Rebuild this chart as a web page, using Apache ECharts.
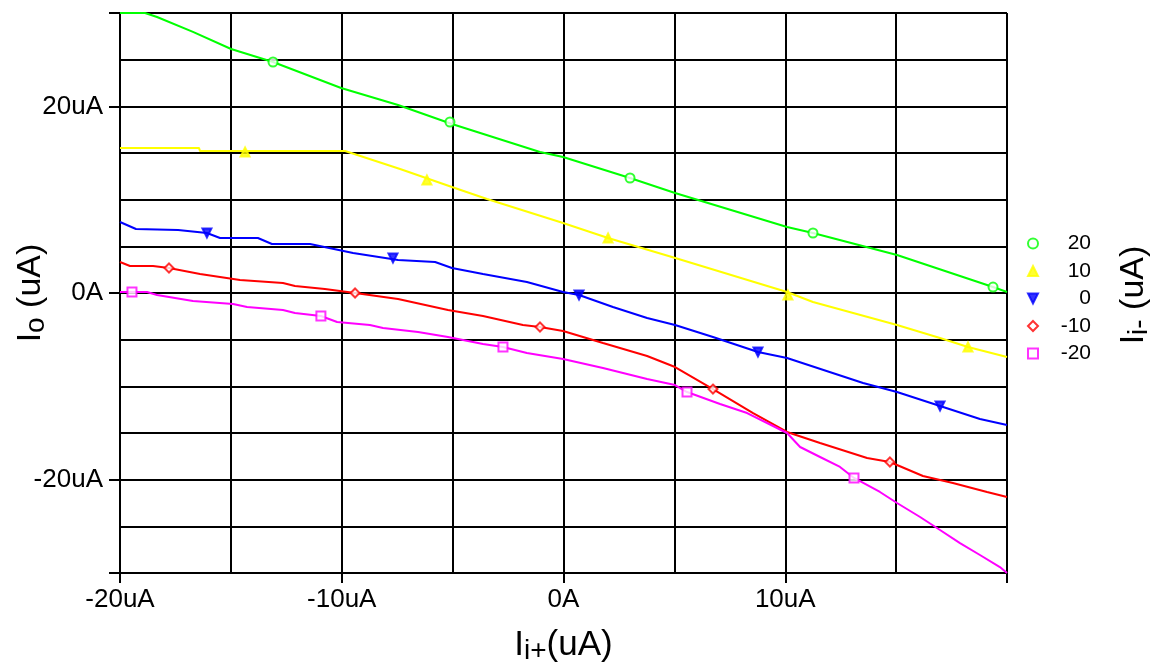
<!DOCTYPE html>
<html>
<head>
<meta charset="utf-8">
<script src="https://cdn.jsdelivr.net/npm/echarts@6/dist/echarts.min.js"></script>
<style>
html,body{margin:0;padding:0;background:#fff;}
#c{width:1156px;height:671px;}
</style>
</head>
<body>
<div id="c"></div>
<script>
// ---- data ----
const seriesNames = ['20', '10', '0', '-10', '-20'];
const seriesColors = ['#00ff00', '#ffff00', '#0000ff', '#ff0000', '#ff00ff'];
const seriesSymbols = ['emptyCircle', 'triangle', 'path://M0,0 L10,0 L5,10 Z', 'emptyDiamond', 'emptyRect'];

// axis positions (grid every 5 uA) and which of them carry ticks / labels
const xGridValues = ['-20', '-15', '-10', '-5', '0', '5', '10', '15', '20'];
const yGridValues = ['-30', '-25', '-20', '-15', '-10', '-5', '0', '5', '10', '15', '20', '25', '30'];
const xTickValues = [-20, -10, 0, 10, 20];
const xLabelValues = [-20, -10, 0, 10];
const yTickValues = [-30, -20, 0, 20, 30];
const yLabelValues = [-20, 0, 20];

const curve20 = [[-20,30],[-18.87,30],[-18.33,29.57],[-16.71,27.97],[-14.99,26.14],[-13.10,24.75],[-10.03,21.96],[-7.46,20.14],[-5.03,18.11],[-1.06,15.11],[-0.02,14.57],[3.00,12.32],[5.03,10.71],[10.08,7.07],[11.25,6.43],[15.04,4.07],[19.37,0.64],[20,0.11]];
const curve10 = [[-20,15.54],[-16.44,15.54],[-16.39,15.21],[-9.85,15.21],[-7.37,13.29],[-5.03,11.36],[-3.45,10.07],[-0.02,7.50],[2.01,5.89],[5.04,3.75],[10.08,0.11],[11.25,-0.96],[15.04,-3.43],[16.98,-4.82],[18.24,-5.79],[20,-6.86]];
const curve0 = [[-20,7.61],[-19.28,6.86],[-17.38,6.75],[-16.08,6.43],[-15.49,5.89],[-13.78,5.89],[-13.15,5.25],[-11.43,5.25],[-9.49,4.29],[-7.46,3.54],[-5.79,3.32],[-5.03,2.68],[-3.63,2.04],[-1.65,1.18],[-0.02,0.11],[0.70,-0.21],[2.23,-1.50],[3.77,-2.68],[5.03,-3.43],[6.74,-4.71],[8.77,-6.32],[10.08,-6.96],[13.51,-9.64],[15.04,-10.61],[16.98,-12.11],[18.78,-13.50],[20,-14.14]];
const curveM10 = [[-20,3.32],[-19.55,2.89],[-18.51,2.89],[-17.79,2.68],[-16.39,2.04],[-14.59,1.39],[-12.65,1.07],[-12.11,0.75],[-10.76,0.43],[-9.40,0.0],[-7.46,-0.64],[-5.21,-1.82],[-3.63,-2.46],[-1.83,-3.43],[-1.06,-3.64],[-0.02,-4.07],[1.78,-5.36],[3.77,-6.75],[5.03,-7.93],[6.74,-10.29],[8.55,-12.86],[10.08,-14.89],[11.57,-16.07],[13.69,-17.68],[14.72,-18.11],[16.21,-19.61],[17.56,-20.36],[19.10,-21.32],[20,-21.86]];
const curveM20 = [[-20,0.11],[-19.46,0.11],[-18.78,0.11],[-18.33,-0.21],[-16.71,-0.86],[-14.90,-1.18],[-14.27,-1.50],[-12.65,-1.82],[-12.11,-2.14],[-10.94,-2.46],[-10.21,-3.11],[-8.73,-3.43],[-8.14,-3.75],[-6.56,-4.18],[-5.21,-4.71],[-3.63,-5.46],[-2.73,-5.79],[-1.65,-6.43],[-0.02,-7.07],[1.78,-8.04],[3.77,-9.21],[5.03,-9.86],[5.57,-10.61],[7.06,-11.89],[8.28,-12.86],[9.18,-13.93],[10.08,-15.0],[10.67,-16.5],[11.57,-17.57],[12.47,-18.64],[13.10,-19.82],[14.27,-21.32],[15.04,-22.50],[16.08,-24.0],[16.98,-25.39],[17.88,-26.79],[18.78,-28.07],[19.68,-29.36],[20,-30.0]];

const marks20 = [[-13.10,24.75],[-5.12,18.32],[3.00,12.32],[11.25,6.43],[19.37,0.64]];
const marks10 = [[-14.36,15.11],[-6.16,12.11],[2.01,5.89],[10.12,-0.21],[18.24,-5.79]];
const marks0 = [[-16.08,6.43],[-7.69,3.75],[0.70,-0.21],[8.77,-6.32],[16.98,-12.11]];
const marksM10 = [[-17.79,2.68],[-9.40,0.0],[-1.06,-3.64],[6.74,-10.29],[14.72,-18.11]];
const marksM20 = [[-19.46,0.11],[-10.94,-2.46],[-2.73,-5.79],[5.57,-10.61],[13.10,-19.82]];

const curves = [curve20, curve10, curve0, curveM10, curveM20];
const marks = [marks20, marks10, marks0, marksM10, marksM20];

// ---- chart ----
const FONT = 'Liberation Sans';
const fmt = v => (+v === 0 ? '0A' : (+v) + 'uA');

const series = [];
seriesNames.forEach((n, i) => {
  series.push({
    name: n, type: 'scatter', xAxisIndex: 0, yAxisIndex: 0,
    data: marks[i], symbol: seriesSymbols[i], symbolSize: 9,
    itemStyle: { color: seriesColors[i], borderWidth: 2, borderColor: seriesColors[i] },
    z: 4, silent: true
  });
});
seriesNames.forEach((n, i) => {
  series.push({
    name: n, type: 'line', xAxisIndex: 0, yAxisIndex: 0,
    data: curves[i], showSymbol: false, symbol: 'none',
    lineStyle: { color: seriesColors[i], width: 2 },
    itemStyle: { color: seriesColors[i] },
    z: 3, silent: true, animation: false
  });
});

const grid = { left: 120, right: 149, top: 13, bottom: 98 };
const axisLineStyle = { show: true, lineStyle: { color: '#000', width: 2 } };

const option = {
  animation: false,
  backgroundColor: '#ffffff',
  grid: grid,
  xAxis: [
    {
      type: 'value', min: -20, max: 20, interval: 5,
      axisLine: axisLineStyle,
      axisTick: { show: false }, axisLabel: { show: false },
      splitLine: { show: true, lineStyle: { color: '#000', width: 2 } },
      name: '{a|I}{b|i+}{a|(uA)}', nameLocation: 'middle', nameGap: 52,
      nameTextStyle: { rich: {
        a: { fontFamily: FONT, fontSize: 35, color: '#000' },
        b: { fontFamily: FONT, fontSize: 28, color: '#000', padding: [12, 0, 0, 0] }
      } }
    },
    {
      type: 'category', data: xGridValues, boundaryGap: false, position: 'bottom',
      axisLine: axisLineStyle,
      axisTick: { show: true, inside: false, length: 10,
        interval: (idx, val) => xTickValues.indexOf(+val) >= 0,
        lineStyle: { color: '#000', width: 2 } },
      axisLabel: { show: true, interval: (idx, val) => xLabelValues.indexOf(+val) >= 0,
        formatter: fmt, margin: 14, fontFamily: FONT, fontSize: 26, color: '#000' },
      splitLine: { show: false }
    }
  ],
  yAxis: [
    {
      type: 'value', min: -30, max: 30, interval: 5,
      axisLine: axisLineStyle,
      axisTick: { show: false }, axisLabel: { show: false },
      splitLine: { show: true, lineStyle: { color: '#000', width: 2 } },
      name: '{a|I}{b|o}{a| (uA)}', nameLocation: 'middle', nameGap: 70, nameRotate: 90,
      nameTextStyle: { rich: {
        a: { fontFamily: FONT, fontSize: 34, color: '#000' },
        b: { fontFamily: FONT, fontSize: 28, color: '#000', padding: [10, 0, 0, 0] }
      } }
    },
    {
      type: 'category', data: yGridValues, boundaryGap: false, position: 'left',
      axisLine: axisLineStyle,
      axisTick: { show: true, inside: false, length: 11,
        interval: (idx, val) => yTickValues.indexOf(+val) >= 0,
        lineStyle: { color: '#000', width: 2 } },
      axisLabel: { show: true, interval: (idx, val) => yLabelValues.indexOf(+val) >= 0,
        formatter: fmt, margin: 17, fontFamily: FONT, fontSize: 26, color: '#000' },
      splitLine: { show: false }
    }
  ],
  legend: {
    orient: 'vertical', left: 1022, top: 228,
    itemWidth: 10, itemHeight: 10, itemGap: 6.5,
    selectedMode: false,
    data: seriesNames.map((n, i) => ({ name: n, icon: seriesSymbols[i] })),
    formatter: '{r|{name}}',
    textStyle: { fontFamily: FONT, fontSize: 21, color: '#000',
      rich: { r: { fontFamily: FONT, fontSize: 21, color: '#000', width: 48, align: 'right', lineHeight: 20 } } }
  },
  graphic: [{
    type: 'text', x: 1134, y: 295, rotation: Math.PI / 2,
    style: {
      text: '{a|I}{b|i-}{a| (uA)}', align: 'center', verticalAlign: 'middle',
      rich: {
        a: { fontFamily: FONT, fontSize: 34, fill: '#000' },
        b: { fontFamily: FONT, fontSize: 28, fill: '#000', padding: [10, 0, 0, 0] }
      }
    }
  }],
  series: series
};

const chart = echarts.init(document.getElementById('c'), null, { renderer: 'canvas' });
chart.setOption(option);
</script>
</body>
</html>
